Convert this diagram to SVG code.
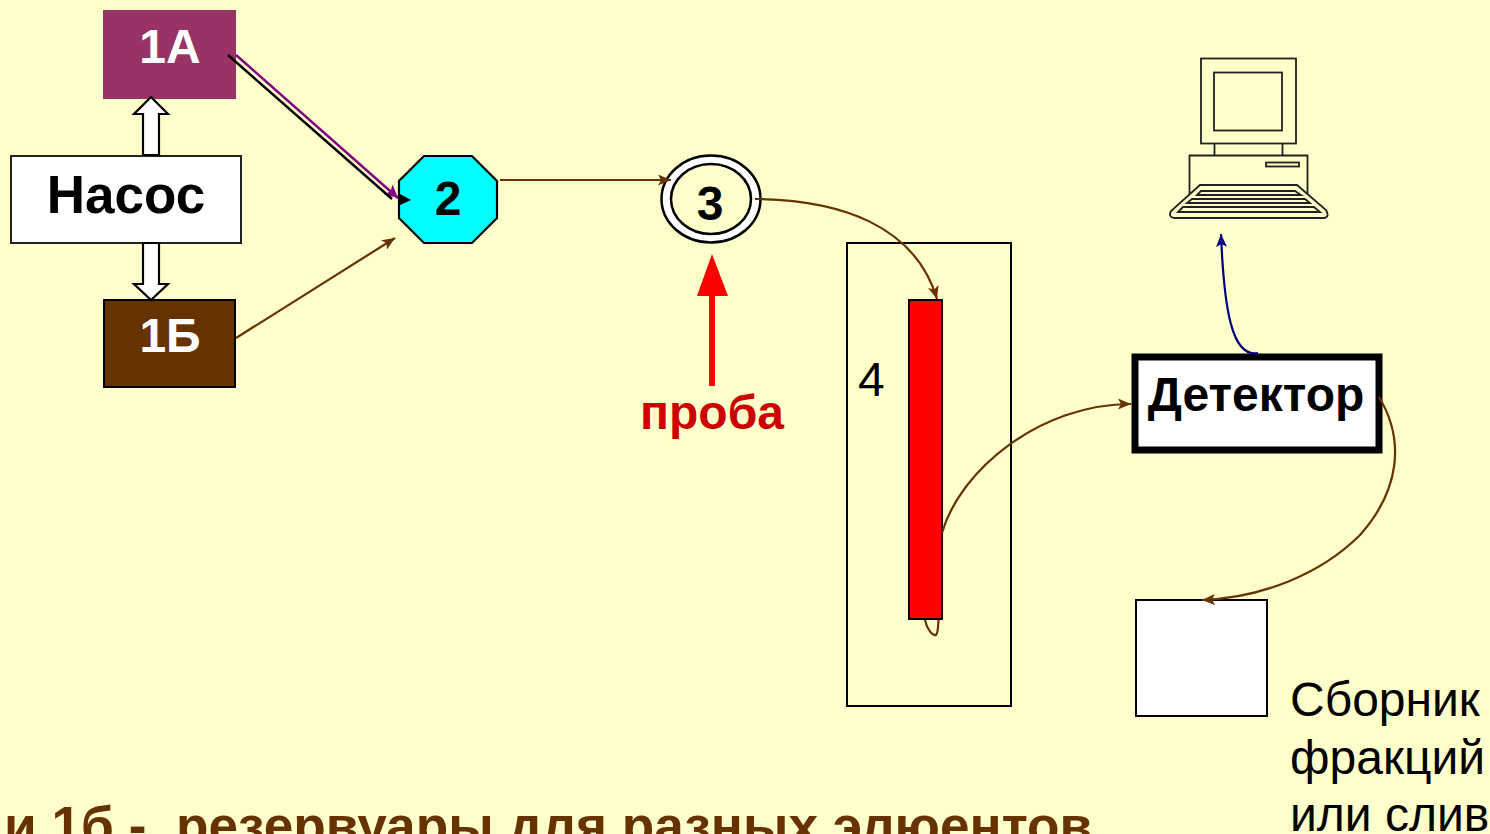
<svg xmlns="http://www.w3.org/2000/svg" width="1490" height="834" viewBox="0 0 1490 834">
<style>
text{font-family:"Liberation Sans",Arial,sans-serif}
.b{font-weight:bold}
.c{text-anchor:middle}
.conn{fill:none;stroke:#663300;stroke-width:2.200}
.pc{fill:none;stroke:#222;stroke-width:1.800}
</style>
<defs>
<marker id="br" markerUnits="userSpaceOnUse" markerWidth="15" markerHeight="11" refX="13" refY="5.500" orient="auto"><path d="M0 0L13 5.500L0 11L3 5.500Z" fill="#663300"/></marker>
<marker id="nv" markerUnits="userSpaceOnUse" markerWidth="15" markerHeight="11" refX="13" refY="5.500" orient="auto"><path d="M0 0L13 5.500L0 11L3 5.500Z" fill="#000080"/></marker>
<marker id="pu" markerUnits="userSpaceOnUse" markerWidth="15" markerHeight="13" refX="13" refY="6.500" orient="auto"><path d="M0 0L13 6.500L0 13L3 6.500Z" fill="#800080"/></marker>
</defs>
<rect width="1490" height="834" fill="#FFFFCC"/>
<g id="node-1a"><rect x="103" y="10" width="133" height="89" fill="#993366"/><text class="b c" x="170" y="63" font-size="48" fill="#FFFFFF">1А</text></g>
<g id="node-pump"><rect x="11" y="156" width="230" height="87" fill="#FFFFFF" stroke="#222" stroke-width="2"/><text class="b c" x="126" y="213" font-size="53" fill="#000">Насос</text></g>
<g id="node-1b"><rect x="104" y="300" width="131" height="87" fill="#663300" stroke="#000" stroke-width="2"/><text class="b c" x="170" y="352" font-size="48" fill="#FFFFFF">1Б</text></g>
<g id="node-2"><path d="M424 156L472 156L497 181L497 218L472 243L424 243L399 218L399 181Z" fill="#00FFFF" stroke="#000" stroke-width="2.200"/><path d="M398 193L411 200L398 206Z" fill="#000"/><text class="b c" x="448" y="215" font-size="48" fill="#000">2</text></g>
<g id="node-3"><ellipse cx="711" cy="199" rx="49.500" ry="43.500" fill="#FFFFFF" stroke="#000" stroke-width="2.500"/><ellipse cx="711" cy="199" rx="40" ry="35" fill="#FFFFCC" stroke="#000" stroke-width="2.500"/><text class="b c" x="710" y="220" font-size="48" fill="#000">3</text></g>
<g id="label-proba"><text class="b c" x="712" y="429" font-size="48" fill="#CC0000">проба</text></g>
<g id="node-4"><rect x="847" y="243" width="164" height="463" fill="none" stroke="#000" stroke-width="2"/><text x="858" y="396" font-size="48" fill="#000">4</text><rect x="909" y="300" width="33" height="319" fill="#FF0000" stroke="#000" stroke-width="2"/></g>
<g id="node-detector"><rect x="1135" y="357" width="244" height="93" fill="#FFFFFF" stroke="#000" stroke-width="7"/><text class="b c" x="1256" y="411" font-size="48" fill="#000">Детектор</text></g>
<g id="node-collector"><rect x="1136" y="600" width="131" height="116" fill="#FFFFFF" stroke="#000" stroke-width="2"/><text x="1290" y="716" font-size="48" fill="#000">Сборник</text><text x="1290" y="774" font-size="48" fill="#000">фракций</text><text x="1290" y="831" font-size="48" fill="#000">или слив</text></g>
<g id="node-computer" class="pc">
<rect class="pc" x="1201" y="58.500" width="95" height="85"/>
<rect class="pc" x="1214" y="72.500" width="68" height="58"/>
<path class="pc" d="M1214.500 144V155M1282.500 144V155"/>
<path class="pc" d="M1189.500 194V155.500H1307.500V194"/>
<rect class="pc" x="1266" y="162.500" width="33" height="4"/>
<path class="pc" d="M1200 185H1297L1326 210Q1330 217 1324 218H1174Q1168 217 1171 211Z"/>
<path class="pc" d="M1201 191L1197 195H1301L1295 191Z"/>
<path class="pc" d="M1192 199L1187 203H1310L1305 199Z"/>
<path class="pc" d="M1183 207L1178 212H1320L1314 207Z"/>
</g>
<g id="caption"><text class="b" x="4" y="844" font-size="53.200" fill="#663300" xml:space="preserve">и 1б -  резервуары для разных элюентов</text></g>
<g id="connectors">
<path d="M236 55L398 198" fill="none" stroke="#800080" stroke-width="2.500" marker-end="url(#pu)"/>
<path d="M228 55L392 199" fill="none" stroke="#000" stroke-width="2.500"/>
<path class="conn" d="M236 338L395 238" marker-end="url(#br)"/>
<path class="conn" d="M500 180L671 180" marker-end="url(#br)"/>
<path class="conn" d="M755 199C840 200 915 225 937 299" marker-end="url(#br)"/>
<path class="conn" d="M925 620C927 630 933 636 936 635C938 633 938 628 938.500 620M942 533C960 470 1040 404 1131 404" marker-end="url(#br)"/>
<path class="conn" d="M1379 397C1405 440 1400 490 1360 535C1320 575 1260 598 1202 600" marker-end="url(#br)"/>
<path d="M1258 353C1232 358 1224 310 1221 234" fill="none" stroke="#000080" stroke-width="2.200" marker-end="url(#nv)"/>
<path d="M712 386L712 290" fill="none" stroke="#FF0000" stroke-width="6"/>
<path d="M712 254L728 296L697 296Z" fill="#FF0000"/>
<path d="M143 155L143 114L134 114L151 97L168 114L159 114L159 155Z" fill="#FFFFFF" stroke="#000" stroke-width="2.200"/>
<path d="M143 243L143 284L134 284L151 300L168 284L159 284L159 243Z" fill="#FFFFFF" stroke="#000" stroke-width="2.200"/>
</g>
</svg>
